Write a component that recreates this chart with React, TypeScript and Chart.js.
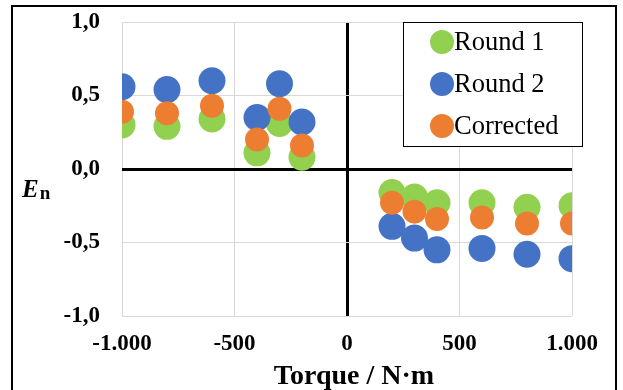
import React, { useEffect, useRef } from "react";
import { Chart, registerables } from "chart.js";

Chart.register(...registerables);

const torqueNeg = [-1000, -800, -600, -400, -300, -200];
const torquePos = [200, 300, 400, 600, 800, 1000];
const torque = [...torqueNeg, ...torquePos];

const round1 = [0.30, 0.29, 0.34, 0.11, 0.31, 0.08, -0.16, -0.19, -0.23, -0.23, -0.26, -0.25];
const round2 = [0.56, 0.54, 0.60, 0.35, 0.58, 0.32, -0.39, -0.47, -0.55, -0.54, -0.58, -0.61];
const corrected = [0.39, 0.38, 0.43, 0.20, 0.41, 0.16, -0.23, -0.29, -0.34, -0.33, -0.37, -0.37];

const seriesNames = ["Round 1", "Round 2", "Corrected"];
const seriesColors = ["#92d050", "#4472c4", "#ed7d31"];

const xTickValues = [-1000, -500, 0, 500, 1000];
const xTickLabels = ["-1.000", "-500", "0", "500", "1.000"];
const yTickValues = [-1, -0.5, 0, 0.5, 1];
const yTickLabels = ["-1,0", "-0,5", "0,0", "0,5", "1,0"];

const xTitle = "Torque / N·m";
const yTitleMain = "E";
const yTitleSub = "n";

const SERIF = "'Liberation Serif', 'Times New Roman', serif";

function toPoints(vals: number[]) {
  return vals.map((v, i) => ({ x: torque[i], y: v }));
}

export default function App() {
  const ref = useRef<HTMLCanvasElement | null>(null);

  useEffect(() => {
    if (!ref.current) return;

    const decor = {
      id: "decor",
      afterDraw(chart: any) {
        const ctx = chart.ctx;
        ctx.save();
        // outer frame
        ctx.strokeStyle = "#000";
        ctx.lineWidth = 2;
        ctx.strokeRect(12, 6, 604, 420);

        // axis titles
        ctx.fillStyle = "#000";
        ctx.textBaseline = "alphabetic";
        ctx.textAlign = "center";
        ctx.font = `bold 28px ${SERIF}`;
        ctx.fillText(xTitle, 354, 384);
        ctx.textAlign = "left";
        ctx.font = `italic bold 25px ${SERIF}`;
        ctx.fillText(yTitleMain, 22, 197);
        const ew = ctx.measureText(yTitleMain).width;
        ctx.font = `bold 19px ${SERIF}`;
        ctx.fillText(yTitleSub, 22 + ew + 1, 199);

        // legend
        const lx = 403, ly = 22, lw = 179, lh = 124;
        ctx.fillStyle = "#fff";
        ctx.fillRect(lx, ly, lw, lh);
        ctx.strokeStyle = "#000";
        ctx.lineWidth = 1;
        ctx.strokeRect(lx + 0.5, ly + 0.5, lw, lh);
        const ds = chart.data.datasets;
        [0, 1, 2].forEach((di, k) => {
          const d = ds[di];
          const cy = 42 + k * 42;
          ctx.beginPath();
          ctx.fillStyle = d.backgroundColor;
          ctx.arc(442, cy, 12, 0, Math.PI * 2);
          ctx.fill();
          ctx.fillStyle = "#000";
          ctx.font = `26.5px ${SERIF}`;
          ctx.textBaseline = "middle";
          ctx.fillText(d.label, 454, cy + 1);
        });
        ctx.restore();
      },
    };

    const gridColor = (c: any) => (c.tick && c.tick.value === 0 ? "#000" : "#d9d9d9");
    const gridWidth = (c: any) => (c.tick && c.tick.value === 0 ? 3 : 1);

    const chart = new Chart(ref.current, {
      type: "scatter",
      data: {
        datasets: [
          { label: seriesNames[0], data: toPoints(round1), backgroundColor: seriesColors[0], borderColor: seriesColors[0], pointRadius: 13.5, borderWidth: 0, order: 3 },
          { label: seriesNames[1], data: toPoints(round2), backgroundColor: seriesColors[1], borderColor: seriesColors[1], pointRadius: 13.5, borderWidth: 0, order: 2 },
          { label: seriesNames[2], data: toPoints(corrected), backgroundColor: seriesColors[2], borderColor: seriesColors[2], pointRadius: 12, borderWidth: 0, order: 1 },
        ],
      },
      options: {
        responsive: false,
        animation: false,
        events: [],
        layout: { padding: { left: 0, top: 22, right: 51, bottom: 0 } },
        plugins: { legend: { display: false }, tooltip: { enabled: false } },
        scales: {
          x: {
            type: "linear",
            min: -1000,
            max: 1000,
            afterFit: (s: any) => { s.height = 74; },
            afterBuildTicks: (s: any) => { s.ticks = xTickValues.map((v) => ({ value: v })); },
            ticks: {
              padding: 14,
              color: "#000",
              font: { family: SERIF, size: 23, weight: "bold" },
              callback: (v: any) => { const i = xTickValues.indexOf(Number(v)); return i >= 0 ? xTickLabels[i] : ""; },
            },
            grid: { drawTicks: false, color: gridColor, lineWidth: gridWidth },
            border: { display: false },
          },
          y: {
            type: "linear",
            min: -1,
            max: 1,
            afterFit: (s: any) => { s.width = 122; },
            afterBuildTicks: (s: any) => { s.ticks = yTickValues.map((v) => ({ value: v })); },
            ticks: {
              padding: 0,
              color: "#000",
              font: { family: SERIF, size: 23, weight: "bold" },
              callback: (v: any) => { const i = yTickValues.indexOf(Number(v)); return i >= 0 ? yTickLabels[i] : ""; },
            },
            grid: { drawTicks: true, tickLength: 22, tickColor: "rgba(0,0,0,0)", color: gridColor, lineWidth: gridWidth },
            border: { display: false },
          },
        },
      },
      plugins: [decor],
    } as any);

    return () => chart.destroy();
  }, []);

  return (
    <div style={{ position: "absolute", left: 0, top: 0, width: 623, height: 390, background: "#fff" }}>
      <canvas ref={ref} width={623} height={390} style={{ display: "block" }} />
    </div>
  );
}
